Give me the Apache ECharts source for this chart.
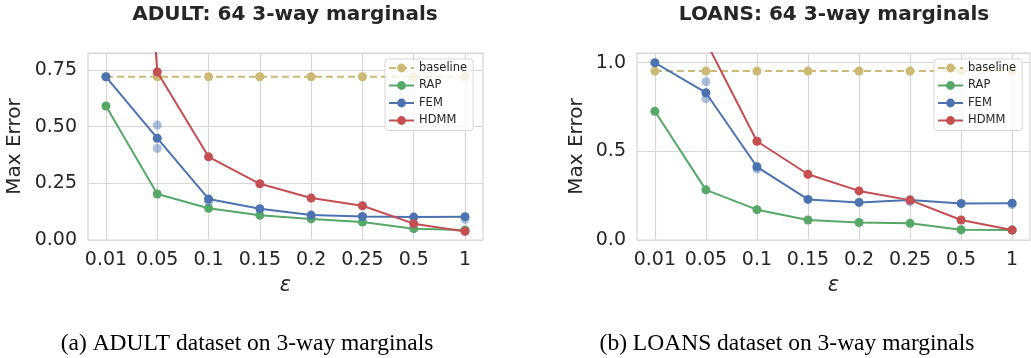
<!DOCTYPE html>
<html>
<head>
<meta charset="utf-8">
<script src="https://cdn.jsdelivr.net/npm/echarts@6/dist/echarts.min.js"></script>
<style>
  html, body { margin: 0; padding: 0; background: #fff; }
  #chart { width: 1031px; height: 358px; }
</style>
</head>
<body>
<div id="chart"></div>
<script>
// epsilon values on the x axis (evenly spaced categories)
var epsLabels = ["0.01", "0.05", "0.1", "0.15", "0.2", "0.25", "0.5", "1"];

// ADULT: max error per epsilon
var adultBaseline = [0.72, 0.72, 0.72, 0.72, 0.72, 0.72, 0.72, 0.72];
var adultRAP = [0.591, 0.203, 0.140, 0.109, 0.093, 0.079, 0.050, 0.044];
var adultFEM = [0.720, 0.449, 0.181, 0.138, 0.110, 0.104, 0.101, 0.103];
var adultHDMM = [4.0, 0.741, 0.367, 0.248, 0.185, 0.151, 0.072, 0.038];
// faint single runs of FEM: [epsilon index, value]
var adultFEMRuns = [[1, 0.507], [1, 0.404], [2, 0.170], [7, 0.091]];

// LOANS: max error per epsilon
var loansBaseline = [0.953, 0.953, 0.953, 0.953, 0.953, 0.953, 0.953, 0.953];
var loansRAP = [0.726, 0.283, 0.171, 0.113, 0.099, 0.094, 0.058, 0.056];
var loansFEM = [1.0, 0.831, 0.413, 0.229, 0.212, 0.225, 0.206, 0.208];
var loansHDMM = [3.0, 1.12, 0.557, 0.371, 0.277, 0.225, 0.113, 0.056];
var loansFEMRuns = [[1, 0.893], [1, 0.797], [2, 0.400], [5, 0.215], [7, 0.200]];

var seriesNames = ["baseline", "RAP", "FEM", "HDMM"];
var colors = ["#ccb974", "#55a868", "#4c72b0", "#c44e52"];

var textColor = "#262626";
var gridColor = "#d6d6d6";
var sans = "DejaVu Sans";

function toPoints(values) {
  var pts = [];
  for (var i = 0; i < values.length; i++) {
    pts.push([i, values[i]]);
  }
  return pts;
}

function makeXAxis(idx) {
  var ticks = epsLabels.map(function(l, i) { return i; });
  return {
    type: "value",
    gridIndex: idx,
    min: -0.35,
    max: 7.35,
    name: "ε",
    nameLocation: "middle",
    nameGap: 34,
    nameTextStyle: { fontFamily: sans, fontStyle: "italic", fontSize: 21, color: textColor },
    axisLine: { show: false },
    axisTick: { show: false, customValues: ticks },
    axisLabel: {
      customValues: ticks,
      margin: 11,
      fontFamily: sans,
      fontSize: 19,
      color: textColor,
      formatter: function(v) { return epsLabels[Math.round(v)]; }
    },
    splitLine: { show: true, lineStyle: { color: gridColor, width: 1.2 } }
  };
}

function makeYAxis(idx, max, interval, digits, gap) {
  return {
    type: "value",
    gridIndex: idx,
    min: 0,
    max: max,
    interval: interval,
    name: "Max Error",
    nameLocation: "middle",
    nameGap: gap,
    nameTextStyle: { fontFamily: sans, fontSize: 20, color: textColor },
    axisLine: { show: false },
    axisTick: { show: false },
    axisLabel: {
      margin: 11,
      fontFamily: sans,
      fontSize: 19,
      color: textColor,
      showMaxLabel: false,
      formatter: function(v) { return v.toFixed(digits); }
    },
    splitLine: { show: true, lineStyle: { color: gridColor, width: 1.2 } }
  };
}

function makeSeries(idx, data, runs) {
  var out = [];
  for (var s = 0; s < data.length; s++) {
    out.push({
      name: seriesNames[s],
      type: "line",
      xAxisIndex: idx,
      yAxisIndex: idx,
      data: toPoints(data[s]),
      symbol: "circle",
      symbolSize: 9,
      showSymbol: true,
      clip: true,
      color: colors[s],
      lineStyle: { width: 2, color: colors[s], type: s === 0 ? [7, 4] : "solid" },
      itemStyle: { color: colors[s] },
      emphasis: { disabled: true },
      z: 3 + s
    });
  }
  out.push({
    name: "FEM runs",
    type: "scatter",
    xAxisIndex: idx,
    yAxisIndex: idx,
    data: runs,
    symbol: "circle",
    symbolSize: 9,
    itemStyle: { color: colors[2], opacity: 0.45 },
    z: 4
  });
  return out;
}

function makeLegend(left) {
  return {
    orient: "vertical",
    left: left,
    top: 59,
    data: seriesNames,
    itemWidth: 25,
    itemHeight: 11,
    itemGap: 5.5,
    padding: [3, 6, 4, 3],
    backgroundColor: "rgba(255,255,255,0.8)",
    borderColor: "#d6d6d6",
    borderWidth: 1,
    borderRadius: 3,
    textStyle: { fontFamily: sans, fontSize: 11.5, color: textColor },
    selectedMode: false
  };
}

var chart = echarts.init(document.getElementById("chart"), null, { renderer: "canvas" });

var option = {
  animation: false,
  backgroundColor: "#ffffff",
  grid: [
    { left: 88, top: 53, width: 395, height: 187, show: true, backgroundColor: "#fff", borderColor: gridColor, borderWidth: 1.2 },
    { left: 637, top: 53, right: 1, height: 187, show: true, backgroundColor: "#fff", borderColor: gridColor, borderWidth: 1.2 }
  ],
  xAxis: [makeXAxis(0), makeXAxis(1)],
  yAxis: [makeYAxis(0, 0.825, 0.25, 2, 63), makeYAxis(1, 1.055, 0.5, 1, 50)],
  legend: [makeLegend(385), makeLegend(934)],
  series: makeSeries(0, [adultBaseline, adultRAP, adultFEM, adultHDMM], adultFEMRuns)
    .concat(makeSeries(1, [loansBaseline, loansRAP, loansFEM, loansHDMM], loansFEMRuns)),
  graphic: [
    { type: "text", x: 285, y: 15, style: { text: "ADULT: 64 3-way marginals", font: "bold 20px 'DejaVu Sans'", fill: textColor, textAlign: "center", textVerticalAlign: "middle" } },
    { type: "text", x: 834, y: 15, style: { text: "LOANS: 64 3-way marginals", font: "bold 20px 'DejaVu Sans'", fill: textColor, textAlign: "center", textVerticalAlign: "middle" } },
    { type: "text", x: 247, y: 344, style: { text: "(a) ADULT dataset on 3-way marginals", font: "23.5px 'Liberation Serif'", fill: "#000", textAlign: "center", textVerticalAlign: "middle" } },
    { type: "text", x: 787, y: 344, style: { text: "(b) LOANS dataset on 3-way marginals", font: "23.5px 'Liberation Serif'", fill: "#000", textAlign: "center", textVerticalAlign: "middle" } }
  ]
};

chart.setOption(option);
</script>
</body>
</html>
